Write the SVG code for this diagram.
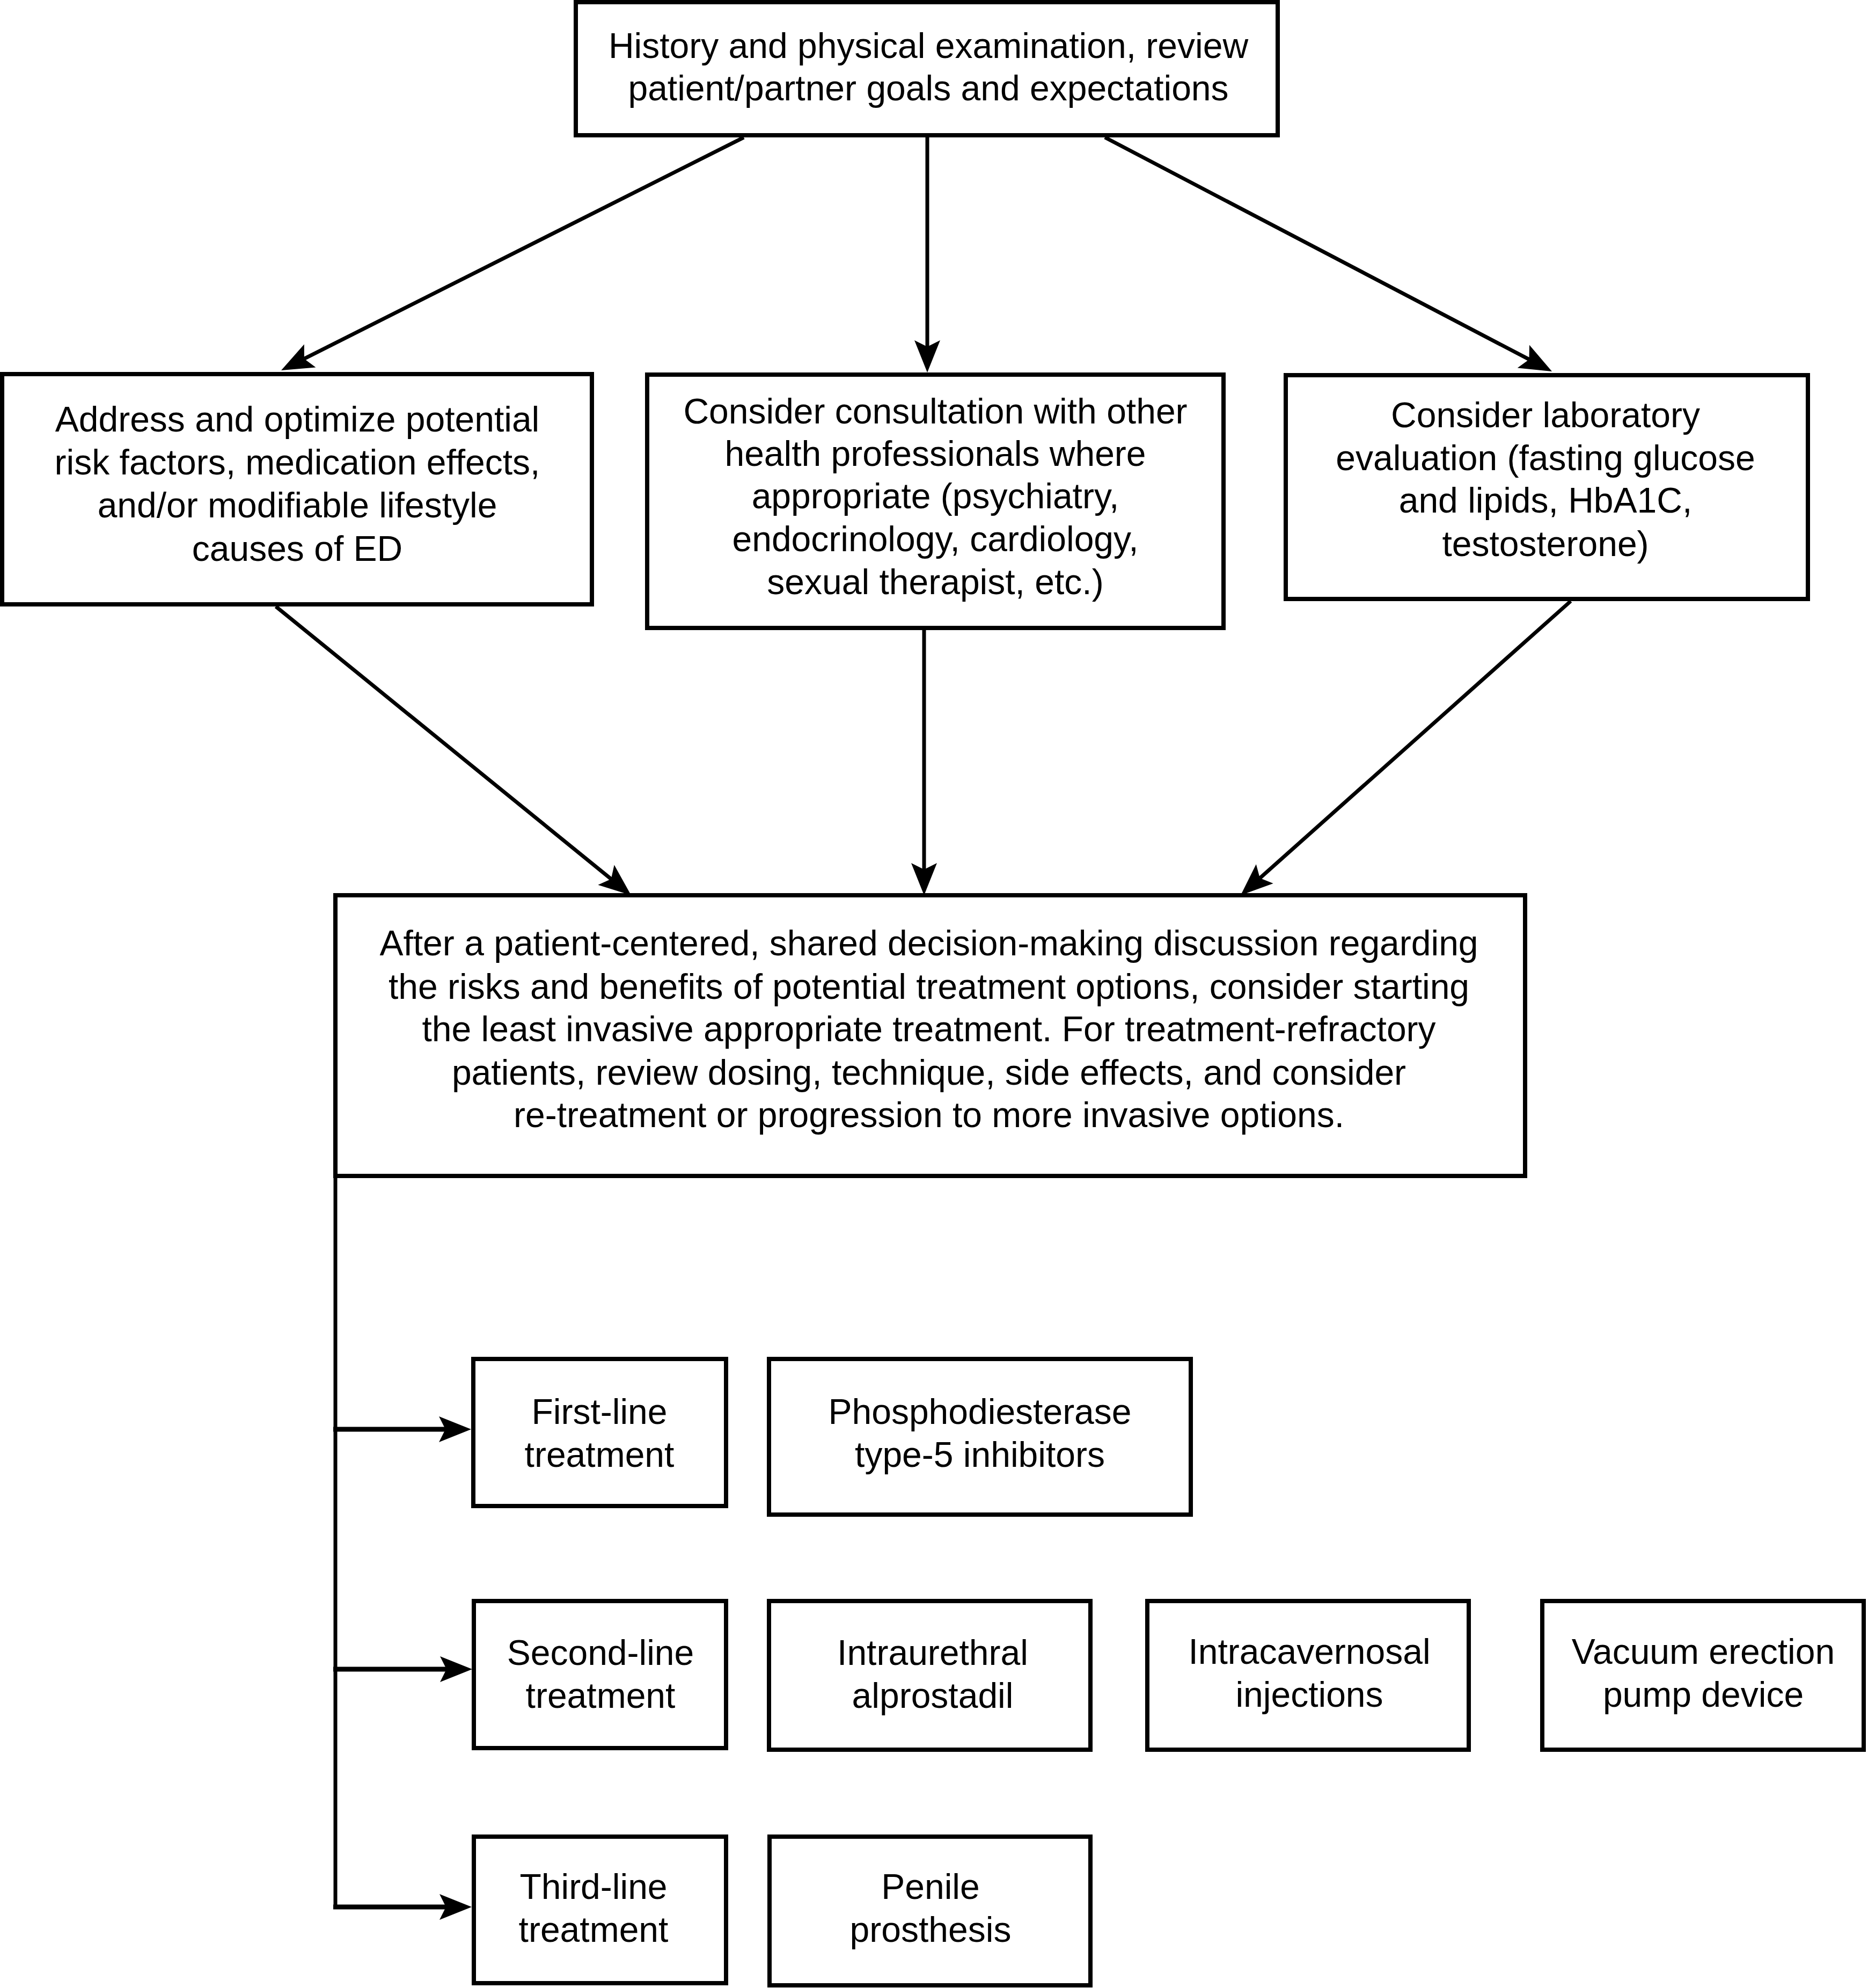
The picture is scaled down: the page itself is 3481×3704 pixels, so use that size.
<svg xmlns="http://www.w3.org/2000/svg" width="3481" height="3704" viewBox="0 0 3481 3704">
<style>
  .box { fill: #ffffff; stroke: #000000; stroke-width: 8; }
  .lbl { font-family: "Liberation Sans", Arial, Helvetica, sans-serif; font-size: 66px; fill: #000000; text-anchor: middle; }
  .con { fill: none; stroke: #000000; stroke-width: 7; }
  .br { fill: none; stroke: #000000; stroke-width: 9; }
</style>
<defs>
  <marker id="ah" markerUnits="userSpaceOnUse" markerWidth="80" markerHeight="60" refX="0" refY="0" orient="auto" overflow="visible" viewBox="-20 -30 80 60">
    <path d="M 48 0 L -12 -24 L 0 0 L -12 24 Z" fill="#000000"/>
  </marker>
</defs>
<rect width="3481" height="3704" fill="#ffffff"/>

<g id="connectors">
  <line class="con" x1="1386" y1="256" x2="566.9" y2="668.4" marker-end="url(#ah)"/>
  <line class="con" x1="1728" y1="256" x2="1728" y2="646" marker-end="url(#ah)"/>
  <line class="con" x1="2059" y1="256" x2="2849.5" y2="669.7" marker-end="url(#ah)"/>
  <line class="con" x1="514" y1="1130" x2="1138.8" y2="1637.7" marker-end="url(#ah)"/>
  <line class="con" x1="1722" y1="1174" x2="1722" y2="1620" marker-end="url(#ah)"/>
  <line class="con" x1="2927" y1="1120" x2="2347.8" y2="1636.1" marker-end="url(#ah)"/>
  <line class="con" x1="625" y1="2195" x2="625" y2="3557"/>
  <line class="br" x1="621" y1="2663" x2="830" y2="2663" marker-end="url(#ah)"/>
  <line class="br" x1="621" y1="3110" x2="832" y2="3110" marker-end="url(#ah)"/>
  <line class="br" x1="621" y1="3553" x2="831" y2="3553" marker-end="url(#ah)"/>
</g>

<g id="node-history">
  <rect class="box" x="1073" y="4" width="1308" height="248"/>
  <text class="lbl" x="1730" y="108">History and physical examination, review</text>
  <text class="lbl" x="1730" y="187">patient/partner goals and expectations</text>
</g>

<g id="node-address">
  <rect class="box" x="4" y="697" width="1099" height="429"/>
  <text class="lbl" x="554" y="804">Address and optimize potential</text>
  <text class="lbl" x="554" y="884">risk factors, medication effects,</text>
  <text class="lbl" x="554" y="964">and/or modifiable lifestyle</text>
  <text class="lbl" x="554" y="1045">causes of ED</text>
</g>

<g id="node-consult">
  <rect class="box" x="1206" y="698" width="1074" height="472"/>
  <text class="lbl" x="1743" y="789">Consider consultation with other</text>
  <text class="lbl" x="1743" y="868">health professionals where</text>
  <text class="lbl" x="1743" y="947">appropriate (psychiatry,</text>
  <text class="lbl" x="1743" y="1027">endocrinology, cardiology,</text>
  <text class="lbl" x="1743" y="1107">sexual therapist, etc.)</text>
</g>

<g id="node-lab">
  <rect class="box" x="2396" y="699" width="973" height="417"/>
  <text class="lbl" x="2880" y="796">Consider laboratory</text>
  <text class="lbl" x="2880" y="876">evaluation (fasting glucose</text>
  <text class="lbl" x="2880" y="955">and lipids, HbA1C,</text>
  <text class="lbl" x="2880" y="1036">testosterone)</text>
</g>

<g id="node-decision">
  <rect class="box" x="625" y="1668" width="2217" height="523"/>
  <text class="lbl" x="1731" y="1780">After a patient-centered, shared decision-making discussion regarding</text>
  <text class="lbl" x="1731" y="1861">the risks and benefits of potential treatment options, consider starting</text>
  <text class="lbl" x="1731" y="1940">the least invasive appropriate treatment. For treatment-refractory</text>
  <text class="lbl" x="1731" y="2021">patients, review dosing, technique, side effects, and consider</text>
  <text class="lbl" x="1731" y="2100">re-treatment or progression to more invasive options.</text>
</g>

<g id="node-first-line">
  <rect class="box" x="882" y="2532" width="471" height="274"/>
  <text class="lbl" x="1117" y="2653">First-line</text>
  <text class="lbl" x="1117" y="2733">treatment</text>
</g>

<g id="node-pde5">
  <rect class="box" x="1433" y="2532" width="786" height="290"/>
  <text class="lbl" x="1826" y="2653">Phosphodiesterase</text>
  <text class="lbl" x="1826" y="2733">type-5 inhibitors</text>
</g>

<g id="node-second-line">
  <rect class="box" x="883" y="2983" width="470" height="274"/>
  <text class="lbl" x="1119" y="3102">Second-line</text>
  <text class="lbl" x="1119" y="3182">treatment</text>
</g>

<g id="node-intraurethral">
  <rect class="box" x="1433" y="2983" width="599" height="277"/>
  <text class="lbl" x="1738" y="3102">Intraurethral</text>
  <text class="lbl" x="1738" y="3182">alprostadil</text>
</g>

<g id="node-intracavernosal">
  <rect class="box" x="2138" y="2983" width="599" height="277"/>
  <text class="lbl" x="2440" y="3100">Intracavernosal</text>
  <text class="lbl" x="2440" y="3180">injections</text>
</g>

<g id="node-vacuum">
  <rect class="box" x="2874" y="2983" width="599" height="277"/>
  <text class="lbl" x="3174" y="3100">Vacuum erection</text>
  <text class="lbl" x="3174" y="3180">pump device</text>
</g>

<g id="node-third-line">
  <rect class="box" x="883" y="3422" width="470" height="273"/>
  <text class="lbl" x="1106" y="3538">Third-line</text>
  <text class="lbl" x="1106" y="3618">treatment</text>
</g>

<g id="node-penile">
  <rect class="box" x="1434" y="3422" width="598" height="277"/>
  <text class="lbl" x="1734" y="3538">Penile</text>
  <text class="lbl" x="1734" y="3618">prosthesis</text>
</g>
</svg>
